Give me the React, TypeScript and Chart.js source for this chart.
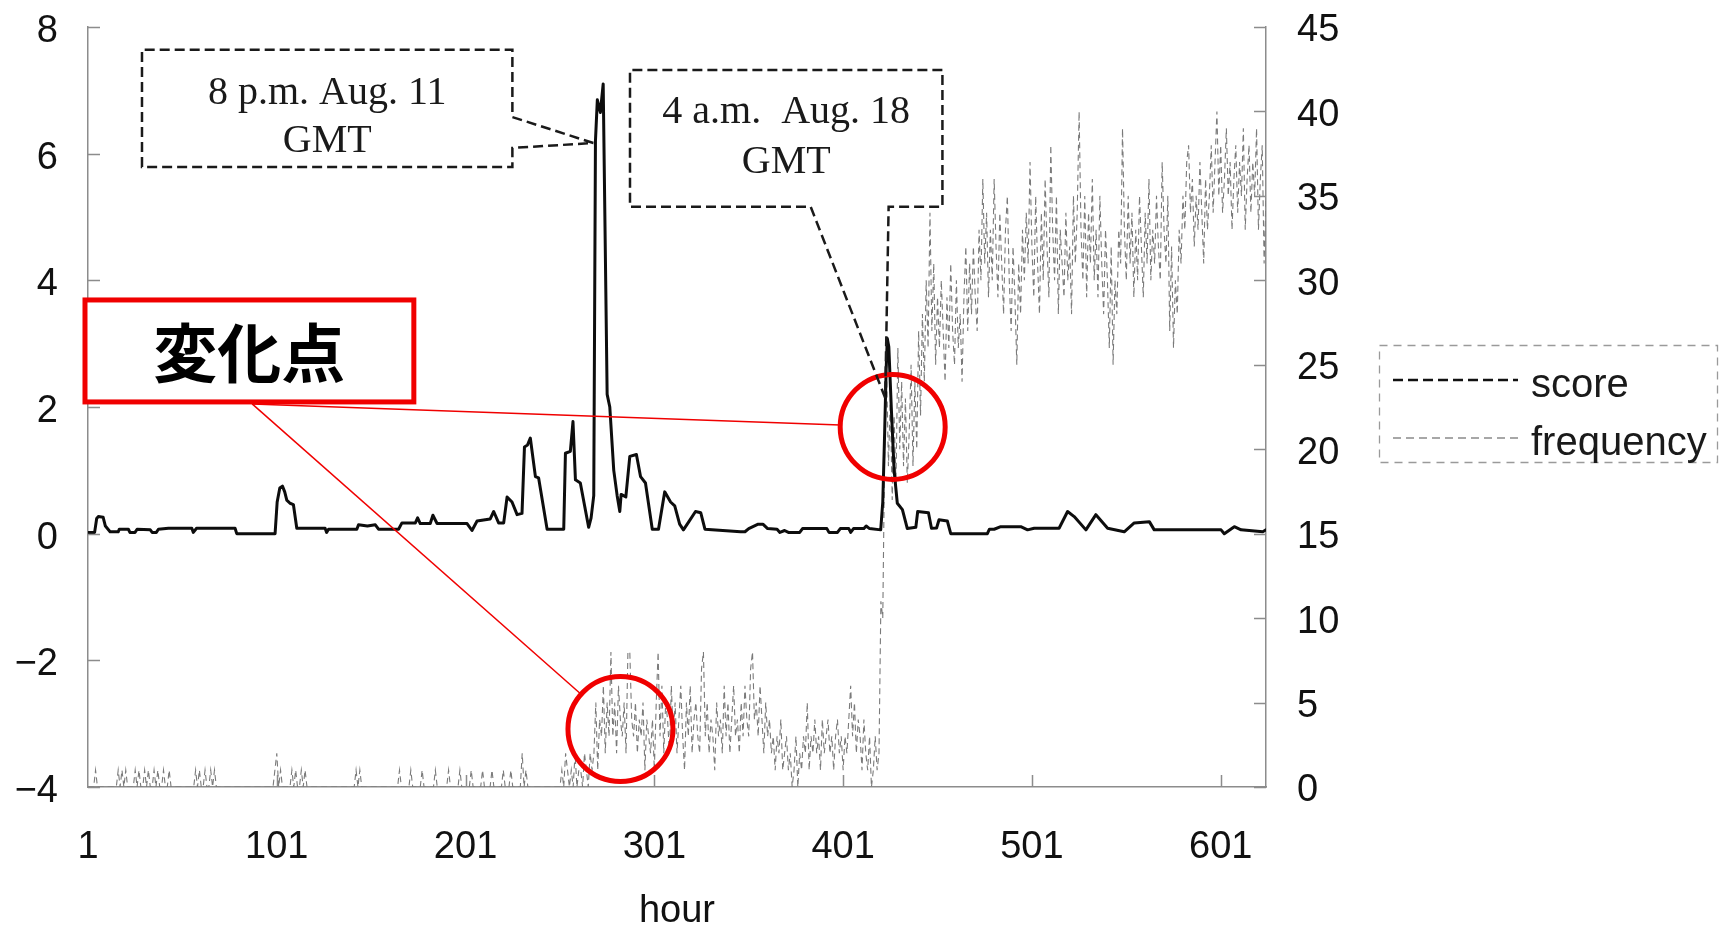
import React, { useEffect, useRef } from 'react';
import { Chart, registerables } from 'chart.js';

Chart.register(...registerables);

const CANVAS_W = 1719;
const CANVAS_H = 929;

// ---- axes ----
const xTickValues = [1, 101, 201, 301, 401, 501, 601];
const scoreTickValues = [-4, -2, 0, 2, 4, 6, 8];
const scoreTickLabels = ['−4', '−2', '0', '2', '4', '6', '8'];
const freqTickValues = [0, 5, 10, 15, 20, 25, 30, 35, 40, 45];
const xAxisTitle = 'hour';

// ---- series: score (breakpoints, hour -> score) ----
const scoreHours = [
  1, 4.5, 5.6, 6.5, 9, 10.2, 12.7, 17, 17.6, 22.4, 23.2, 25.9, 27, 34, 35, 37.2, 38.3, 43.6, 56, 56.8,
  58.5, 78.9, 79.8, 100.1, 101.2, 102.6, 104, 105.2, 106.3, 108, 109.8, 111.6, 126.6, 127.4, 128.4, 143.4, 144.3, 149, 153.2, 154.9,
  165.5, 167.3, 174.4, 175.6, 177, 182.3, 183.7, 185.9, 201.8, 204.4, 207.1, 214, 215.9, 218.5, 221.2, 223, 225.6, 228.3, 230.9, 232.2,
  233.8, 235.3, 238, 239.7, 244.2, 253, 253.9, 256.5, 257.9, 259.2, 261.8, 266.2, 267.5, 268.9, 269.8, 270.8, 272.4, 273.9, 276, 277.4,
  279.5, 281.3, 282.7, 283.4, 285.9, 288, 291.5, 293.7, 296.3, 299.9, 303.2, 306.5, 309.6, 311.8, 314.4, 316.4, 319.3, 322.8, 325.6, 327.8,
  346.7, 349, 351, 356, 358.5, 361, 366, 367.5, 370, 372, 378, 379.5, 392.4, 393.5, 398, 399.5, 404, 405, 406.5, 412,
  413.2, 415, 420.9, 422, 423, 423.8, 424.4, 425.2, 426.5, 428, 429.7, 432.4, 435, 439.5, 440.5, 446.2, 447.8, 450.5, 451.8, 456.2,
  458, 477.4, 478.5, 481, 484.5, 495.1, 498.7, 502.2, 515.4, 519.9, 523.4, 529.6, 534.9, 541.1, 549.9, 555.2, 563.2, 565.8, 601.2, 602.9,
  608.2, 611.8, 623.3, 625,
];
const scoreValues = [
  0.02, 0.02, 0.24, 0.27, 0.26, 0.12, 0.03, 0.03, 0.07, 0.07, 0.02, 0.02, 0.07, 0.06, 0.02, 0.02, 0.07, 0.085, 0.085, 0.02,
  0.085, 0.085, 0.0, 0.0, 0.5, 0.72, 0.75, 0.66, 0.53, 0.48, 0.46, 0.085, 0.085, 0.02, 0.07, 0.07, 0.14, 0.12, 0.14, 0.07,
  0.07, 0.17, 0.17, 0.25, 0.16, 0.16, 0.29, 0.16, 0.16, 0.05, 0.2, 0.23, 0.35, 0.17, 0.17, 0.58, 0.5, 0.3, 0.32, 1.37,
  1.4, 1.51, 0.9, 0.88, 0.07, 0.07, 1.27, 1.3, 1.77, 0.85, 0.8, 0.1, 0.25, 0.6, 6.2, 6.85, 6.65, 7.1, 2.2, 2.0,
  1.0, 0.6, 0.35, 0.62, 0.58, 1.22, 1.25, 0.9, 0.8, 0.07, 0.07, 0.66, 0.5, 0.44, 0.15, 0.06, 0.19, 0.35, 0.33, 0.07,
  0.03, 0.03, 0.08, 0.15, 0.15, 0.08, 0.07, 0.02, 0.05, 0.02, 0.02, 0.08, 0.08, 0.02, 0.02, 0.08, 0.08, 0.02, 0.08, 0.08,
  0.12, 0.08, 0.06, 0.5, 1.6, 2.6, 3.08, 2.95, 2.0, 1.0, 0.48, 0.38, 0.08, 0.1, 0.35, 0.33, 0.085, 0.09, 0.22, 0.2,
  0.0, 0.0, 0.07, 0.07, 0.11, 0.11, 0.06, 0.085, 0.085, 0.35, 0.27, 0.06, 0.3, 0.085, 0.03, 0.17, 0.19, 0.06, 0.06, 0.0,
  0.11, 0.06, 0.03, 0.06,
];

// ---- series: frequency (one value per hour, hours 1..625) ----
const frequencyValues = [
  0, 0, 0, 0, 1, 0, 0, 0, 0, 0, 0, 0, 0, 0, 0, 0, 1, 0, 1, 0, 1, 0, 0, 0, 0,
  1, 0, 1, 0, 0, 1, 0, 1, 0, 0, 1, 0, 1, 0, 0, 1, 0, 0, 1, 0, 0, 0, 0, 0, 0,
  0, 0, 0, 0, 0, 0, 0, 1, 0, 1, 0, 0, 1, 0, 0, 1, 0, 1, 0, 0, 0, 0, 0, 0, 0,
  0, 0, 0, 0, 0, 0, 0, 0, 0, 0, 0, 0, 0, 0, 0, 0, 0, 0, 0, 0, 0, 0, 0, 0, 1,
  2, 0, 1, 0, 0, 0, 0, 0, 1, 0, 1, 0, 0, 1, 0, 1, 0, 0, 0, 0, 0, 0, 0, 0, 0,
  0, 0, 0, 0, 0, 0, 0, 0, 0, 0, 0, 0, 0, 0, 0, 0, 0, 1, 0, 1, 0, 0, 0, 0, 0,
  0, 0, 0, 0, 0, 0, 0, 0, 0, 0, 0, 0, 0, 0, 0, 1, 0, 0, 0, 0, 0, 1, 0, 0, 0,
  0, 0, 1, 0, 0, 0, 0, 0, 0, 1, 0, 0, 0, 0, 0, 0, 1, 0, 0, 0, 0, 0, 1, 0, 0,
  0, 0, 0, 1, 0, 0, 0, 0, 0, 1, 0, 0, 0, 0, 1, 0, 0, 0, 0, 0, 1, 0, 0, 0, 1,
  0, 0, 0, 0, 0, 2, 0, 1, 0, 0, 0, 0, 0, 0, 0, 0, 0, 0, 0, 0, 0, 0, 0, 0, 0,
  0, 1, 0, 2, 1, 0, 1, 0, 2, 0, 1, 1, 0, 2, 1, 0, 2, 1, 2, 5, 1, 4, 3, 6, 2,
  5, 3, 8, 3, 5, 2, 6, 4, 3, 5, 2, 8, 8, 4, 3, 5, 2, 4, 3, 5, 1, 4, 3, 2, 4,
  1, 5, 8, 3, 6, 2, 5, 4, 2, 6, 3, 5, 2, 4, 6, 3, 1, 5, 3, 6, 2, 4, 5, 3, 2,
  7, 8, 3, 5, 2, 4, 3, 1, 5, 3, 4, 2, 6, 3, 5, 2, 4, 6, 3, 4, 2, 5, 3, 6, 4,
  3, 7, 8, 4, 5, 3, 6, 4, 2, 5, 3, 4, 2, 3, 1, 3, 2, 4, 1, 2, 3, 1, 2, 0, 1,
  3, 0, 2, 1, 3, 2, 5, 1, 3, 2, 4, 2, 3, 1, 4, 2, 3, 4, 2, 3, 1, 3, 4, 2, 3,
  1, 3, 2, 4, 6, 3, 5, 2, 4, 3, 1, 4, 2, 1, 3, 0, 1, 3, 1, 2, 11, 10, 20, 25, 19,
  23, 17, 22, 18, 26, 20, 24, 19, 23, 18, 21, 25, 19, 24, 20, 27, 22, 28, 24, 30, 26, 34, 27, 31, 25,
  29, 26, 30, 27, 24, 29, 26, 31, 27, 25, 30, 26, 28, 24, 29, 32, 27, 31, 28, 32, 29, 27, 33, 30, 36,
  31, 34, 29, 33, 30, 36, 32, 29, 34, 31, 28, 33, 35, 30, 27, 32, 29, 25, 31, 28, 33, 30, 34, 31, 37,
  32, 29, 35, 31, 28, 34, 30, 36, 32, 29, 38, 33, 30, 35, 28, 33, 31, 29, 34, 30, 32, 28, 35, 31, 34,
  40, 33, 30, 35, 29, 34, 31, 36, 30, 33, 29, 35, 31, 28, 33, 30, 26, 32, 25, 30, 28, 33, 31, 39, 33,
  30, 35, 31, 34, 29, 33, 30, 35, 32, 29, 34, 31, 36, 30, 33, 31, 35, 32, 30, 37, 33, 31, 35, 27, 32,
  26, 30, 28, 33, 31, 35, 33, 37, 38, 34, 36, 32, 35, 33, 37, 34, 31, 36, 33, 35, 38, 34, 37, 40, 35,
  38, 34, 36, 39, 35, 37, 33, 36, 38, 34, 37, 35, 39, 33, 36, 38, 34, 37, 35, 39, 33, 36, 38, 31, 35,
];

const seriesLabels = ['score', 'frequency'];

// ---- annotations, positioned in data units (hour, score) ----
const callouts = [
  {
    lines: ['8 p.m. Aug. 11', 'GMT'],
    left: 29.6, right: 225.8, top: 7.64, bottom: 5.79,
    textHour: 127.7, baselines: [6.79, 6.03],
    side: 'right', gapA: 6.578, gapB: 6.09, tip: [268.7, 6.168],
  },
  {
    lines: ['4 a.m.  Aug. 18', 'GMT'],
    left: 288.1, right: 453.6, top: 7.32, bottom: 5.163,
    textHour: 370.85, baselines: [6.485, 5.695],
    side: 'bottom', gapA: 383.8, gapB: 425.1, tip: [423.3, 2.142],
  },
];
const changePointLabel = '変化点';
const changePointBox = { left: -0.59, right: 173.6, top: 3.69, bottom: 2.08, textHour: 86.4, textValue: 2.861 };
const changePointCircles = [
  { hour: 427.25, value: 1.685 },
  { hour: 283.05, value: -3.084 },
];
const leaderOrigin = { hour: 87.95, value: 2.049 };

const RED = '#f00000';
const AXIS_GRAY = '#8c8c8c';
const TICK_FONT = "'Liberation Sans', Arial, sans-serif";

const overlayPlugin = {
  id: 'overlay',
  afterDatasetsDraw(chart: any) {
    const { ctx } = chart;
    const xs = chart.scales.x;
    const ys = chart.scales.y;
    const px = (h: number) => xs.getPixelForValue(h);
    const py = (v: number) => ys.getPixelForValue(v);
    const R = 52.5;
    ctx.save();

    // red leader lines
    const ox = px(leaderOrigin.hour);
    const oy = py(leaderOrigin.value);
    ctx.strokeStyle = RED;
    ctx.lineWidth = 1.5;
    changePointCircles.forEach((c) => {
      const cx = px(c.hour);
      const cy = py(c.value);
      const dx = cx - ox;
      const dy = cy - oy;
      const len = Math.hypot(dx, dy);
      ctx.beginPath();
      ctx.moveTo(ox, oy);
      ctx.lineTo(cx - (dx / len) * R, cy - (dy / len) * R);
      ctx.stroke();
    });
    // red circles
    ctx.lineWidth = 5;
    changePointCircles.forEach((c) => {
      ctx.beginPath();
      ctx.arc(px(c.hour), py(c.value), R, 0, Math.PI * 2);
      ctx.stroke();
    });
    // red box with label
    const bx0 = px(changePointBox.left);
    const bx1 = px(changePointBox.right);
    const by0 = py(changePointBox.top);
    const by1 = py(changePointBox.bottom);
    ctx.fillStyle = '#ffffff';
    ctx.fillRect(bx0, by0, bx1 - bx0, by1 - by0);
    ctx.strokeRect(bx0, by0, bx1 - bx0, by1 - by0);
    ctx.fillStyle = '#000000';
    ctx.font = "bold 64px 'Noto Sans CJK JP', sans-serif";
    ctx.textAlign = 'center';
    ctx.textBaseline = 'middle';
    ctx.fillText(changePointLabel, px(changePointBox.textHour), py(changePointBox.textValue));

    // dashed callouts
    callouts.forEach((c) => {
      const x0 = px(c.left);
      const x1 = px(c.right);
      const y0 = py(c.top);
      const y1 = py(c.bottom);
      const tx = px(c.tip[0]);
      const ty = py(c.tip[1]);
      ctx.fillStyle = '#ffffff';
      ctx.fillRect(x0, y0, x1 - x0, y1 - y0);
      ctx.setLineDash([10, 5]);
      ctx.strokeStyle = '#1a1a1a';
      ctx.lineWidth = 2.5;
      ctx.beginPath();
      if (c.side === 'right') {
        const ga = py(c.gapA);
        const gb = py(c.gapB);
        ctx.moveTo(tx, ty);
        ctx.lineTo(x1, ga);
        ctx.lineTo(x1, y0);
        ctx.lineTo(x0, y0);
        ctx.lineTo(x0, y1);
        ctx.lineTo(x1, y1);
        ctx.lineTo(x1, gb);
        ctx.lineTo(tx, ty);
      } else {
        const ga = px(c.gapA);
        const gb = px(c.gapB);
        ctx.moveTo(tx, ty);
        ctx.lineTo(ga, y1);
        ctx.lineTo(x0, y1);
        ctx.lineTo(x0, y0);
        ctx.lineTo(x1, y0);
        ctx.lineTo(x1, y1);
        ctx.lineTo(gb, y1);
        ctx.lineTo(tx, ty);
      }
      ctx.stroke();
      ctx.setLineDash([]);
      ctx.fillStyle = '#1a1a1a';
      ctx.font = "40px 'Liberation Serif', 'Times New Roman', serif";
      ctx.textAlign = 'center';
      ctx.textBaseline = 'alphabetic';
      c.lines.forEach((t, i) => ctx.fillText(t, px(c.textHour), py(c.baselines[i])));
    });
    ctx.restore();
  },
  afterDraw(chart: any) {
    const { ctx, chartArea } = chart;
    const xs = chart.scales.x;
    const ys = chart.scales.y;
    const y1s = chart.scales.y1;
    const TL = 12;
    ctx.save();
    ctx.strokeStyle = AXIS_GRAY;
    ctx.lineWidth = 1.5;
    ctx.beginPath();
    scoreTickValues.forEach((v) => {
      const y = Math.round(ys.getPixelForValue(v)) + 0.5;
      ctx.moveTo(chartArea.left, y);
      ctx.lineTo(chartArea.left + TL, y);
    });
    freqTickValues.forEach((v) => {
      const y = Math.round(y1s.getPixelForValue(v)) + 0.5;
      ctx.moveTo(chartArea.right - TL, y);
      ctx.lineTo(chartArea.right, y);
    });
    xTickValues.slice(1).forEach((v) => {
      const x = Math.round(xs.getPixelForValue(v)) + 0.5;
      ctx.moveTo(x, chartArea.bottom);
      ctx.lineTo(x, chartArea.bottom - TL);
    });
    ctx.stroke();

    // legend
    const L = { x0: 1379, y0: 345, x1: 1717, y1: 462 };
    ctx.setLineDash([8, 6]);
    ctx.strokeStyle = '#9a9a9a';
    ctx.lineWidth = 1.3;
    ctx.strokeRect(L.x0 + 0.5, L.y0 + 0.5, L.x1 - L.x0, L.y1 - L.y0);
    // score sample
    ctx.setLineDash([10, 5]);
    ctx.strokeStyle = '#111111';
    ctx.lineWidth = 2.4;
    ctx.beginPath();
    ctx.moveTo(1393, 380);
    ctx.lineTo(1518, 380);
    ctx.stroke();
    // frequency sample
    ctx.setLineDash([8, 5]);
    ctx.strokeStyle = '#8a8a8a';
    ctx.lineWidth = 1.3;
    ctx.beginPath();
    ctx.moveTo(1393, 438);
    ctx.lineTo(1518, 438);
    ctx.stroke();
    ctx.setLineDash([]);
    ctx.fillStyle = '#1a1a1a';
    ctx.font = `40px ${TICK_FONT}`;
    ctx.textAlign = 'left';
    ctx.textBaseline = 'alphabetic';
    ctx.fillText(seriesLabels[0], 1531, 397);
    ctx.fillText(seriesLabels[1], 1531, 455);
    ctx.restore();
  },
};

const fixVertical = (width: number) => (s: any) => {
  s.width = width;
  s.paddingTop = 0;
  s.paddingBottom = 0;
};

export default function App() {
  const canvasRef = useRef<HTMLCanvasElement | null>(null);

  useEffect(() => {
    document.body.style.margin = '0';
    const canvas = canvasRef.current;
    if (!canvas) return;
    const chart = new Chart(canvas, {
      type: 'line',
      data: {
        datasets: [
          {
            label: seriesLabels[0],
            data: scoreHours.map((h, i) => ({ x: h, y: scoreValues[i] })),
            yAxisID: 'y',
            borderColor: '#0d0d0d',
            borderWidth: 3,
            pointRadius: 0,
            tension: 0,
            borderJoinStyle: 'round',
            borderCapStyle: 'round',
          },
          {
            label: seriesLabels[1],
            data: frequencyValues.map((v, i) => ({ x: i + 1, y: v })),
            yAxisID: 'y1',
            borderColor: '#7a7a7a',
            borderWidth: 1.1,
            borderDash: [6, 4],
            pointRadius: 0,
            tension: 0,
          },
        ],
      },
      options: {
        animation: false,
        responsive: false,
        maintainAspectRatio: false,
        events: [],
        layout: { padding: { top: 27, left: 0, right: 0, bottom: 0 } },
        plugins: { legend: { display: false }, tooltip: { enabled: false } },
        scales: {
          x: {
            type: 'linear',
            min: 1,
            max: 625,
            afterBuildTicks: (s: any) => {
              s.ticks = xTickValues.map((v) => ({ value: v }));
            },
            afterFit: (s: any) => {
              s.height = 142;
              s.paddingLeft = 0;
              s.paddingRight = 0;
            },
            grid: { display: false, drawTicks: false },
            border: { display: true, color: AXIS_GRAY, width: 1.5 },
            ticks: {
              autoSkip: false,
              maxRotation: 0,
              minRotation: 0,
              padding: 38,
              color: '#111111',
              font: { family: TICK_FONT, size: 38 },
              callback: (v: any) => String(v),
            },
            title: {
              display: true,
              text: xAxisTitle,
              color: '#111111',
              font: { family: TICK_FONT, size: 38, lineHeight: 1 },
              padding: { top: 0, bottom: -2 },
            },
          },
          y: {
            type: 'linear',
            position: 'left',
            min: -4,
            max: 8,
            afterBuildTicks: (s: any) => {
              s.ticks = scoreTickValues.map((v) => ({ value: v }));
            },
            afterFit: fixVertical(88),
            grid: { display: false, drawTicks: false },
            border: { display: true, color: AXIS_GRAY, width: 1.5 },
            ticks: {
              autoSkip: false,
              padding: 30,
              labelOffset: 4.5,
              color: '#111111',
              font: { family: TICK_FONT, size: 38 },
              callback: (v: any) => scoreTickLabels[scoreTickValues.indexOf(Number(v))],
            },
          },
          y1: {
            type: 'linear',
            position: 'right',
            min: 0,
            max: 45,
            afterBuildTicks: (s: any) => {
              s.ticks = freqTickValues.map((v) => ({ value: v }));
            },
            afterFit: fixVertical(453),
            grid: { display: false, drawTicks: false },
            border: { display: true, color: AXIS_GRAY, width: 1.5 },
            ticks: {
              autoSkip: false,
              padding: 31,
              labelOffset: 4,
              color: '#111111',
              font: { family: TICK_FONT, size: 38 },
              callback: (v: any) => String(v),
            },
          },
        },
      },
      plugins: [overlayPlugin],
    } as any);
    return () => chart.destroy();
  }, []);

  return (
    <div style={{ width: CANVAS_W, height: CANVAS_H, background: '#ffffff' }}>
      <canvas ref={canvasRef} width={CANVAS_W} height={CANVAS_H} />
    </div>
  );
}
